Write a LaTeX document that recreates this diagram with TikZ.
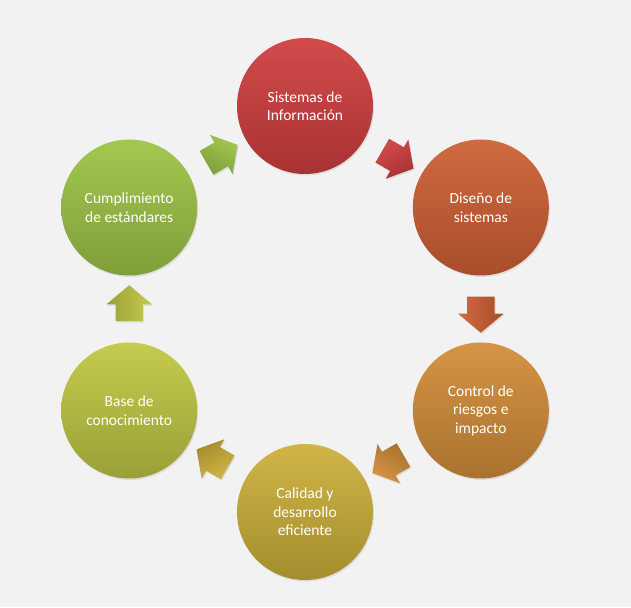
\documentclass[tikz,border=0pt]{standalone}
\usepackage{fontspec}
\setmainfont{Carlito}
\usetikzlibrary{shapes.arrows,calc,shadows}

\definecolor{fondo}{HTML}{F2F2F2}
\definecolor{rojoA}{HTML}{D24B4B}   \definecolor{rojoB}{HTML}{A93232}
\definecolor{tejaA}{HTML}{D06A40}   \definecolor{tejaB}{HTML}{A84D2A}
\definecolor{naranjaA}{HTML}{D69445}\definecolor{naranjaB}{HTML}{A9722F}
\definecolor{ocreA}{HTML}{D1B548}   \definecolor{ocreB}{HTML}{A38D2D}
\definecolor{olivaA}{HTML}{C5CB4D}  \definecolor{olivaB}{HTML}{9AA036}
\definecolor{verdeA}{HTML}{A3C851}  \definecolor{verdeB}{HTML}{7E9E39}

\begin{document}
\begin{tikzpicture}[x=1pt, y=1pt,
  circulo/.style={circle, minimum size=136pt, inner sep=0pt, align=center,
    text=white, font=\fontsize{15.5}{18.5}\selectfont,
    drop shadow={opacity=0.18, shadow xshift=1pt, shadow yshift=-1.5pt}},
  flecha/.style={single arrow, minimum height=36pt, minimum width=45pt,
    single arrow head extend=9pt, single arrow tip angle=100,
    inner xsep=0pt, inner ysep=13.5pt,
    drop shadow={opacity=0.18, shadow xshift=1pt, shadow yshift=-1.5pt}}]
  % --- fondo y centro del ciclo ---
  \fill[fondo] (0,0) rectangle (631,607);
  \useasboundingbox (0,0) rectangle (631,607);
  \def\R{203}   % radio del ciclo
  \def\F{175.8} % distancia de las flechas
  \coordinate (c) at (305,298);

  % ---- circulos ----
  \node[circulo, top color=rojoA, bottom color=rojoB] (sist) at ($(c)+(90:\R)$)
    {Sistemas de\\Información};
  \node[circulo, top color=tejaA, bottom color=tejaB] (dise) at ($(c)+(30:\R)$)
    {Diseño de\\sistemas};
  \node[circulo, top color=naranjaA, bottom color=naranjaB] (ctrl) at ($(c)+(-30:\R)$)
    {Control de\\riesgos e\\impacto};
  \node[circulo, top color=ocreA, bottom color=ocreB] (cali) at ($(c)+(-90:\R)$)
    {Calidad y\\desarrollo\\eficiente};
  \node[circulo, top color=olivaA, bottom color=olivaB] (base) at ($(c)+(-150:\R)$)
    {Base de\\conocimiento};
  \node[circulo, top color=verdeA, bottom color=verdeB] (cump) at ($(c)+(150:\R)$)
    {Cumplimiento\\de estándares};

  % ---- flechas entre circulos (sentido horario) ----
  \node[flecha, top color=rojoA, bottom color=rojoB, rotate=-30, shading angle=30]
    (f1) at ($(c)+(60:\F)$) {};
  \node[flecha, top color=tejaA, bottom color=tejaB, rotate=-90, shading angle=90]
    (f2) at ($(c)+(0:\F)$) {};
  \node[flecha, top color=naranjaA, bottom color=naranjaB, rotate=-150, shading angle=150]
    (f3) at ($(c)+(-60:\F)$) {};
  \node[flecha, top color=ocreA, bottom color=ocreB, rotate=150, shading angle=-150]
    (f4) at ($(c)+(-120:\F)$) {};
  \node[flecha, top color=olivaA, bottom color=olivaB, rotate=90, shading angle=-90]
    (f5) at ($(c)+(180:\F)$) {};
  \node[flecha, top color=verdeA, bottom color=verdeB, rotate=30, shading angle=-30]
    (f6) at ($(c)+(120:\F)$) {};
\end{tikzpicture}
\end{document}
